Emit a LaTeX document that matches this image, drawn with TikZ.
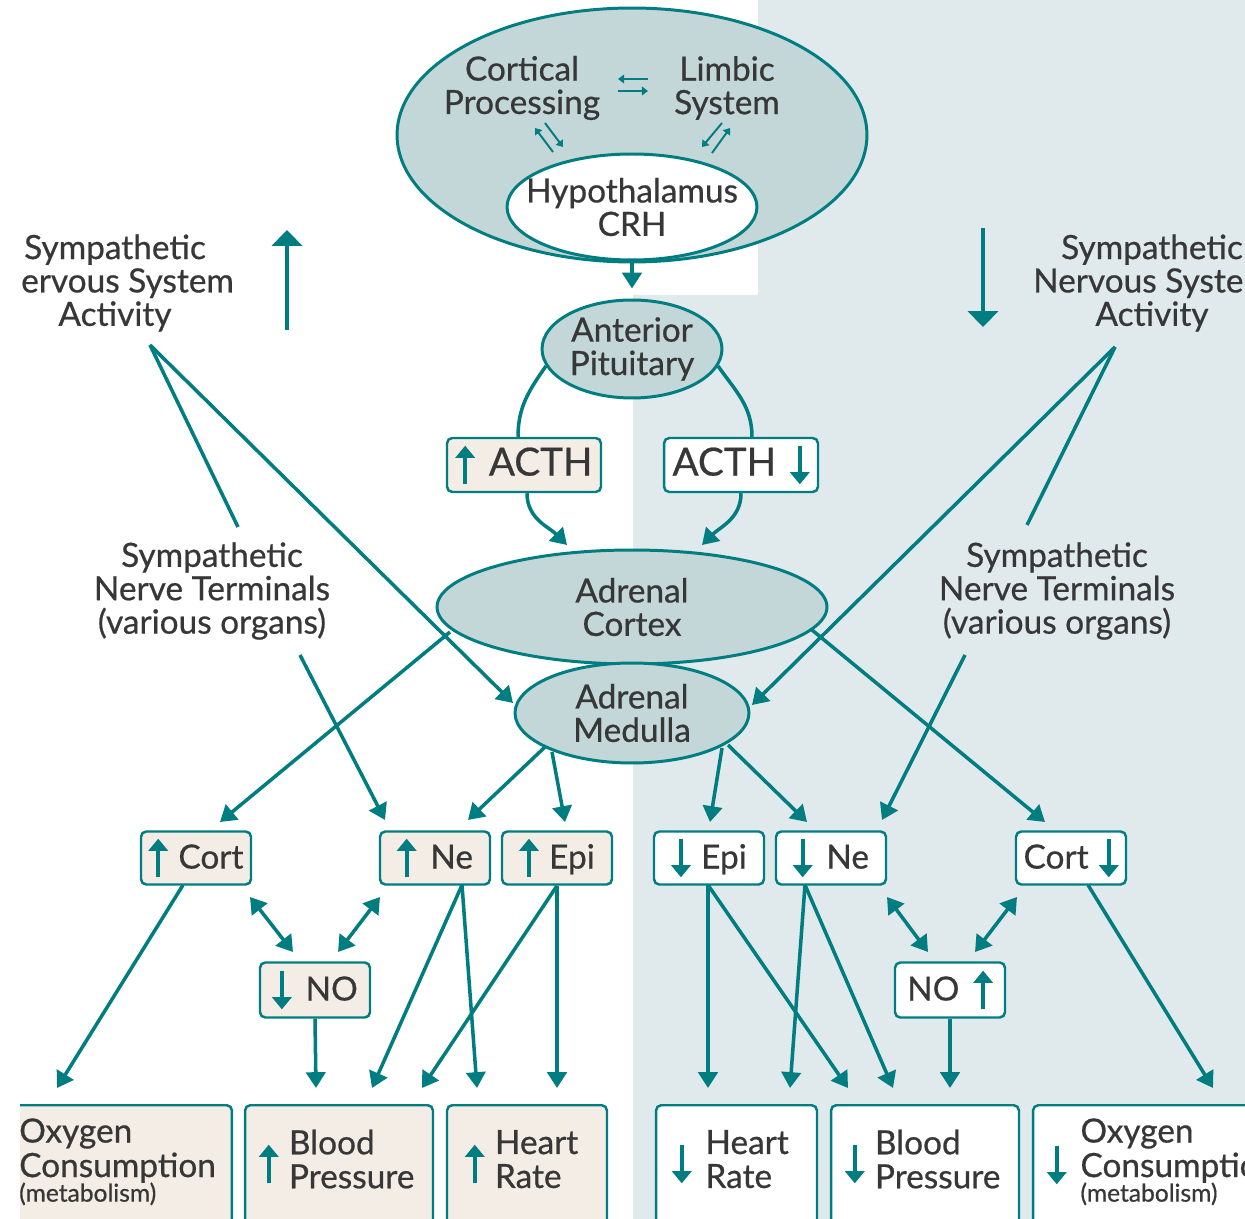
\documentclass[tikz,border=0pt]{standalone}
\usepackage{fontspec}
\setmainfont{Lato}[FakeBold=0.6]
\usetikzlibrary{arrows.meta,shapes.geometric}

% colours
\definecolor{stressteal}{RGB}{0,125,128}
\definecolor{organfill}{RGB}{195,215,217}
\definecolor{risefill}{RGB}{243,237,229}
\definecolor{calmbg}{RGB}{224,233,236}
\definecolor{inktext}{RGB}{55,55,55}

% small level arrows used inside the boxes
\newcommand{\uparr}{\tikz[baseline=0pt,x=1pt,y=1pt]\draw[stressteal,line width=2.3pt,-{Triangle[length=7pt,width=11pt]}] (0,-5) -- (0,17);}
\newcommand{\dnarr}{\tikz[baseline=0pt,x=1pt,y=1pt]\draw[stressteal,line width=2.3pt,-{Triangle[length=7pt,width=11pt]}] (0,17) -- (0,-5);}
\newcommand{\midarr}[1]{$\vcenter{\hbox{#1}}$}

\begin{document}
\begin{tikzpicture}[x=0.02cm, y=-0.02cm,
    txt/.style={text=inktext, font=\fontsize{19}{19}\selectfont, align=center, inner sep=1pt},
    organ/.style={ellipse, draw=stressteal, line width=1.7pt, fill=organfill, inner sep=0pt},
    levelbox/.style={draw=stressteal, line width=1.4pt, rounded corners=3pt, text=inktext, font=\fontsize{19}{19}\selectfont, minimum width=2.2cm, minimum height=1.06cm, inner sep=0pt},
    rise/.style={levelbox, fill=risefill},
    calm/.style={levelbox, fill=white},
    lowbox/.style={draw=stressteal, line width=1.4pt, rounded corners=3pt, anchor=north, minimum height=3cm},
    link/.style={draw=stressteal, line width=2pt},
    flow/.style={link, -{Triangle[length=9pt,width=11pt]}},
    twoway/.style={link, {Triangle[length=9pt,width=11pt]}-{Triangle[length=9pt,width=11pt]}},
    minorarr/.style={draw=stressteal, line width=1.1pt, -{Triangle[length=3.5pt,width=5pt]}},
    bigarr/.style={draw=stressteal, line width=2.7pt, -{Triangle[length=9pt,width=17pt]}}
]
\useasboundingbox (0,0) rectangle (1245,1219);
\begin{scope}
\clip (20,0) rectangle (1245,1219);

% calm side background
\fill[calmbg] (758,0) -- (1245,0) -- (1245,1219) -- (633,1219) -- (633,295) -- (758,295) -- cycle;

% brain
\node[organ, minimum width=9.4cm, minimum height=5.08cm] (brain) at (632,135) {};
\node[txt] (cortical) at (522,88) {Cortical\\Processing};
\node[txt] (limbic) at (727,88) {Limbic\\System};
\node[organ, fill=white, minimum width=5cm, minimum height=2.12cm, label={[txt]center:Hypothalamus\\CRH}] (hypo) at (632,207) {};

% glands
\node[organ, minimum width=3.6cm, minimum height=1.96cm, label={[txt]center:Anterior\\Pituitary}] (pit) at (632,349) {};
\node[organ, minimum width=7.8cm, minimum height=2.28cm, label={[txt]center:Adrenal\\Cortex}] (cortex) at (632,607) {};
\node[organ, minimum width=4.68cm, minimum height=2cm, label={[txt]center:Adrenal\\Medulla}] (med) at (632,713) {};

% side titles
\node[txt] (symL) at (115,283) {Sympathetic\\Nervous System\\Activity};
\node[txt] (symR) at (1152,283) {Sympathetic\\Nervous System\\Activity};
\node[txt] (termL) at (212,591) {Sympathetic\\Nerve Terminals\\(various organs)};
\node[txt] (termR) at (1057,591) {Sympathetic\\Nerve Terminals\\(various organs)};

% ACTH
\node[rise, minimum width=3.08cm, minimum height=1.08cm, font=\fontsize{22}{22}\selectfont] (acth1) at (524,465) {\uparr\hspace{8pt}ACTH};
\node[calm, minimum width=3.08cm, minimum height=1.08cm, font=\fontsize{22}{22}\selectfont] (acth2) at (741,465) {ACTH\hspace{8pt}\dnarr};

% hormone row
\foreach \nm/\x/\sty/\lab in {cu1/196/rise/{\uparr\hspace{6pt}Cort}, ne1/435/rise/{\uparr\hspace{8pt}Ne},
    ep1/557/rise/{\uparr\hspace{6pt}Epi}, ep2/709/calm/{\dnarr\hspace{6pt}Epi},
    ne2/831/calm/{\dnarr\hspace{8pt}Ne}, cd2/1071/calm/{Cort\hspace{6pt}\dnarr}}
    \node[\sty] (\nm) at (\x,858) {\lab};

% nitric oxide
\node[rise, minimum height=1.1cm] (no1) at (315,990) {\dnarr\hspace{8pt}NO};
\node[calm, minimum height=1.1cm] (no2) at (950,990) {NO\hspace{8pt}\uparr};

% effects
\foreach \nm/\x/\w/\col in {o2L/86/5.84/risefill, bpL/339/3.76/risefill, hrL/527/3.2/risefill,
    hrR/736.5/3.22/white, bpR/925/3.76/white, o2R/1179/5.84/white}
    \node[lowbox, fill=\col, minimum width=\w cm] (\nm) at (\x,1104) {};
\node[txt, anchor=east] (o2Lt) at (218,1165) {\begin{tabular}{@{}l@{}}Oxygen\\Consumption\\[-5pt]{\fontsize{14}{14}\selectfont(metabolism)}\end{tabular}};
\node[txt, anchor=west] (bpLt) at (257,1164) {\midarr{\uparr}\hspace{6pt}\begin{tabular}{@{}l@{}}Blood\\Pressure\end{tabular}};
\node[txt, anchor=west] (hrLt) at (463,1164) {\midarr{\uparr}\hspace{6pt}\begin{tabular}{@{}l@{}}Heart\\Rate\end{tabular}};
\node[txt, anchor=west] (hrRt) at (670,1164) {\midarr{\dnarr}\hspace{8pt}\begin{tabular}{@{}l@{}}Heart\\Rate\end{tabular}};
\node[txt, anchor=west] (bpRt) at (843,1164) {\midarr{\dnarr}\hspace{6pt}\begin{tabular}{@{}l@{}}Blood\\Pressure\end{tabular}};
\node[txt, anchor=west] (o2Rt) at (1045,1165) {\midarr{\dnarr}\hspace{8pt}\begin{tabular}{@{}l@{}}Oxygen\\Consumption\\[-5pt]{\fontsize{14}{14}\selectfont(metabolism)}\end{tabular}};

% exchanges inside the brain
\foreach \a/\b/\c/\d in {16/-56/-14/-56, -14/-44/16/-44, -79/17/-97/-7, -87/-12/-69/12, 90/-12/70/12, 80/18/98/-7}
    \draw[minorarr] ([shift={(\a,\b)}]brain.center) -- ([shift={(\c,\d)}]brain.center);

% HPA axis
\draw[flow] (brain.south) -- ([shift={(0,-10)}]pit.north);
\draw[link] ([shift={(-86,17)}]pit.center) to[out=235,in=90] ([shift={(-6,0)}]acth1.north);
\draw[flow] ([shift={(3,0)}]acth1.south) to[out=-90,in=135] ([shift={(-65,-62)}]cortex.center);
\draw[link] ([shift={(86,17)}]pit.center) to[out=-55,in=90] ([shift={(11,0)}]acth2.north);
\draw[flow] (acth2.south) to[out=-90,in=45] ([shift={(70,-62)}]cortex.center);

% sympathetic activity
\draw[bigarr] ([shift={(172,47)}]symL.center) -- ([shift={(172,-53)}]symL.center);
\draw[bigarr] ([shift={(-169,-55)}]symR.center) -- ([shift={(-169,44)}]symR.center);
\draw[link] ([shift={(35,62)}]symL.center) -- ([shift={(26,-64)}]termL.center);
\draw[flow] ([shift={(35,62)}]symL.center) -- ([shift={(-119,-10)}]med.center);
\draw[link] ([shift={(-37,64)}]symR.center) -- ([shift={(-30,-66)}]termR.center);
\draw[flow] ([shift={(-37,64)}]symR.center) -- ([shift={(120,-8)}]med.center);
\draw[flow] ([shift={(88,64)}]termL.center) -- ([shift={(-50,-38)}]ne1.center);
\draw[flow] ([shift={(-92,64)}]termR.center) -- ([shift={(51,-38)}]ne2.center);

% adrenal outputs
\draw[flow] ([shift={(-182,25)}]cortex.center) -- ([shift={(24,-36)}]cu1.center);
\draw[flow] ([shift={(180,23)}]cortex.center) -- ([shift={(-26,-36)}]cd2.center);
\draw[flow] ([shift={(-87,34)}]med.center) -- ([shift={(33,-38)}]ne1.center);
\draw[flow] ([shift={(-80,39)}]med.center) -- ([shift={(8,-36)}]ep1.center);
\draw[flow] ([shift={(90,35)}]med.center) -- ([shift={(1,-36)}]ep2.center);
\draw[flow] ([shift={(96,32)}]med.center) -- ([shift={(-24,-36)}]ne2.center);

% nitric oxide links
\draw[twoway] ([shift={(54,39)}]cu1.center) -- ([shift={(-22,-38)}]no1.center);
\draw[twoway] ([shift={(-55,39)}]ne1.center) -- ([shift={(23,-38)}]no1.center);
\draw[twoway] ([shift={(56,39)}]ne2.center) -- ([shift={(-22,-38)}]no2.center);
\draw[twoway] ([shift={(-54,39)}]cd2.center) -- ([shift={(25,-38)}]no2.center);

% effects on the body
\draw[flow] ([shift={(-13,27)}]cu1.center) -- ([shift={(-29,-16)}]o2L.north);
\draw[flow] (no1.south) -- ([shift={(-23,-16)}]bpL.north);
\draw[flow] ([shift={(27,27)}]ne1.center) -- ([shift={(33,-16)}]bpL.north);
\draw[flow] ([shift={(27,27)}]ne1.center) -- ([shift={(-50,-16)}]hrL.north);
\draw[flow] (ep1.south) -- ([shift={(83,-16)}]bpL.north);
\draw[flow] (ep1.south) -- ([shift={(30,-16)}]hrL.north);
\draw[flow] ([shift={(-1,27)}]ep2.center) -- ([shift={(-28.5,-16)}]hrR.north);
\draw[flow] ([shift={(-1,27)}]ep2.center) -- ([shift={(-77,-16)}]bpR.north);
\draw[flow] ([shift={(-26,27)}]ne2.center) -- ([shift={(53.5,-16)}]hrR.north);
\draw[flow] ([shift={(-26,27)}]ne2.center) -- ([shift={(-32,-16)}]bpR.north);
\draw[flow] (no2.south) -- ([shift={(25,-16)}]bpR.north);
\draw[flow] ([shift={(17,27)}]cd2.center) -- ([shift={(34,-16)}]o2R.north);
\end{scope}
\end{tikzpicture}
\end{document}
